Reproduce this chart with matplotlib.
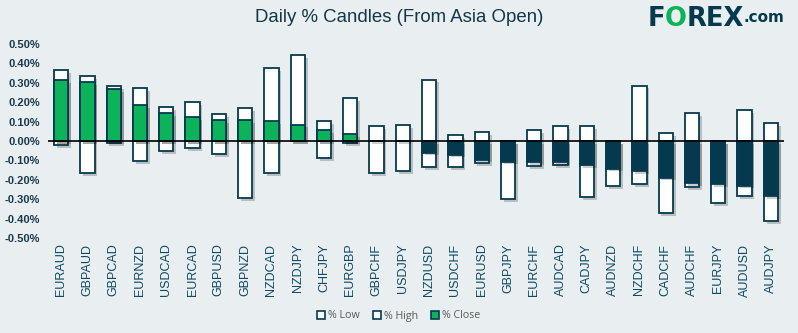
import matplotlib
matplotlib.use("Agg")
import matplotlib.pyplot as plt
import matplotlib.patheffects as pe
from matplotlib.patches import Patch
from matplotlib.ticker import FuncFormatter

pairs = ["EURAUD", "GBPAUD", "GBPCAD", "EURNZD", "USDCAD", "EURCAD", "GBPUSD",
         "GBPNZD", "NZDCAD", "NZDJPY", "CHFJPY", "EURGBP", "GBPCHF", "USDJPY",
         "NZDUSD", "USDCHF", "EURUSD", "GBPJPY", "EURCHF", "AUDCAD", "CADJPY",
         "AUDNZD", "NZDCHF", "CADCHF", "AUDCHF", "EURJPY", "AUDUSD", "AUDJPY"]
pct_high = [0.364, 0.333, 0.281, 0.271, 0.173, 0.199, 0.137, 0.168, 0.374, 0.441,
            0.101, 0.220, 0.075, 0.081, 0.317, 0.029, 0.045, 0.0, 0.057, 0.075,
            0.075, 0.0, 0.286, 0.039, 0.142, 0.0, 0.158, 0.091]
pct_low = [-0.022, -0.166, -0.009, -0.105, -0.053, -0.038, -0.069, -0.295, -0.166, -0.002,
           -0.089, -0.012, -0.166, -0.156, -0.136, -0.136, -0.115, -0.300, -0.130, -0.125,
           -0.290, -0.232, -0.223, -0.372, -0.238, -0.321, -0.285, -0.413]
pct_close = [0.312, 0.302, 0.268, 0.184, 0.142, 0.122, 0.106, 0.106, 0.101, 0.084,
             0.055, 0.034, 0.0, 0.0, -0.060, -0.070, -0.096, -0.106, -0.108, -0.108,
             -0.124, -0.142, -0.154, -0.189, -0.216, -0.221, -0.230, -0.286]

BG = "#e9eef0"
GREEN = "#0cb35a"
NAVY = "#053a4e"

plt.rcParams["font.family"] = ["Liberation Sans", "DejaVu Sans"]

fig = plt.figure(figsize=(7.98, 3.33), dpi=100, facecolor=BG)
ax = fig.add_axes([48 / 798, 95 / 333, 736 / 798, 194 / 333], facecolor=BG)

x = range(len(pairs))
shadow = [pe.SimplePatchShadow(offset=(2, -2), shadow_rgbFace="k", alpha=0.2), pe.Normal()]
bar_kw = dict(width=0.54, edgecolor=NAVY, linewidth=1.3, zorder=2)

lows = ax.bar(x, pct_low, color="white", **bar_kw)
highs = ax.bar(x, pct_high, color="white", **bar_kw)
close_cols = [GREEN if c >= 0 else NAVY for c in pct_close]
closes = ax.bar(x, pct_close, color=close_cols, **bar_kw)
for container in (lows, highs, closes):
    for rect in container:
        rect.set_path_effects(shadow)

ax.axhline(0, color="black", linewidth=1.2, zorder=3)

ax.set_xlim(-0.5, len(pairs) - 0.5)
ax.set_ylim(-0.5, 0.5)
ax.set_yticks([i / 10 for i in range(-5, 6)])
ax.yaxis.set_major_formatter(FuncFormatter(lambda v, _: f"{v:.2f}%"))
ax.set_xticks(list(x))
ax.set_xticklabels(pairs, rotation=90)
ax.tick_params(axis="y", length=0, pad=6, labelsize=8, labelcolor="#183a4c")
ax.tick_params(axis="x", length=0, pad=4, labelsize=9, labelcolor="#0d4a63")
for lbl in ax.get_yticklabels():
    lbl.set_fontweight("bold")
for side in ax.spines.values():
    side.set_visible(False)

fig.text(0.5, 1 - 17 / 333, "Daily % Candles (From Asia Open)", ha="center", va="center",
         fontsize=13.4, color="#12384a")

handles = [Patch(facecolor="white", edgecolor=NAVY, linewidth=1.2, label="% Low"),
           Patch(facecolor="white", edgecolor=NAVY, linewidth=1.2, label="% High"),
           Patch(facecolor=GREEN, edgecolor=NAVY, linewidth=1.2, label="% Close")]
fig.legend(handles=handles, loc="center", bbox_to_anchor=(0.5, 1 - 316 / 333), ncol=3,
           frameon=False, handlelength=0.75, handleheight=0.75, handletextpad=0.3,
           columnspacing=1.2, prop={"family": "Open Sans", "size": 7.7}, labelcolor="#595959")

# logo: FOREX.com, green O
fig.canvas.draw()
renderer = fig.canvas.get_renderer()
xpos = 648
logo_y = 1 - 19 / 333
for piece, col, size in [("F", NAVY, 18.5), ("O", GREEN, 18.5), ("REX", NAVY, 18.5), (".com", NAVY, 11)]:
    t = fig.text(xpos / 798, logo_y, piece, ha="left", va="center",
                 fontsize=size, fontweight="heavy", color=col, family="DejaVu Sans")
    bb = t.get_window_extent(renderer)
    xpos += bb.width - 0.5
    if piece == ".com":
        t.set_y(logo_y + 1.5 / 333)

fig.savefig("out.png", dpi=100, facecolor=BG)
